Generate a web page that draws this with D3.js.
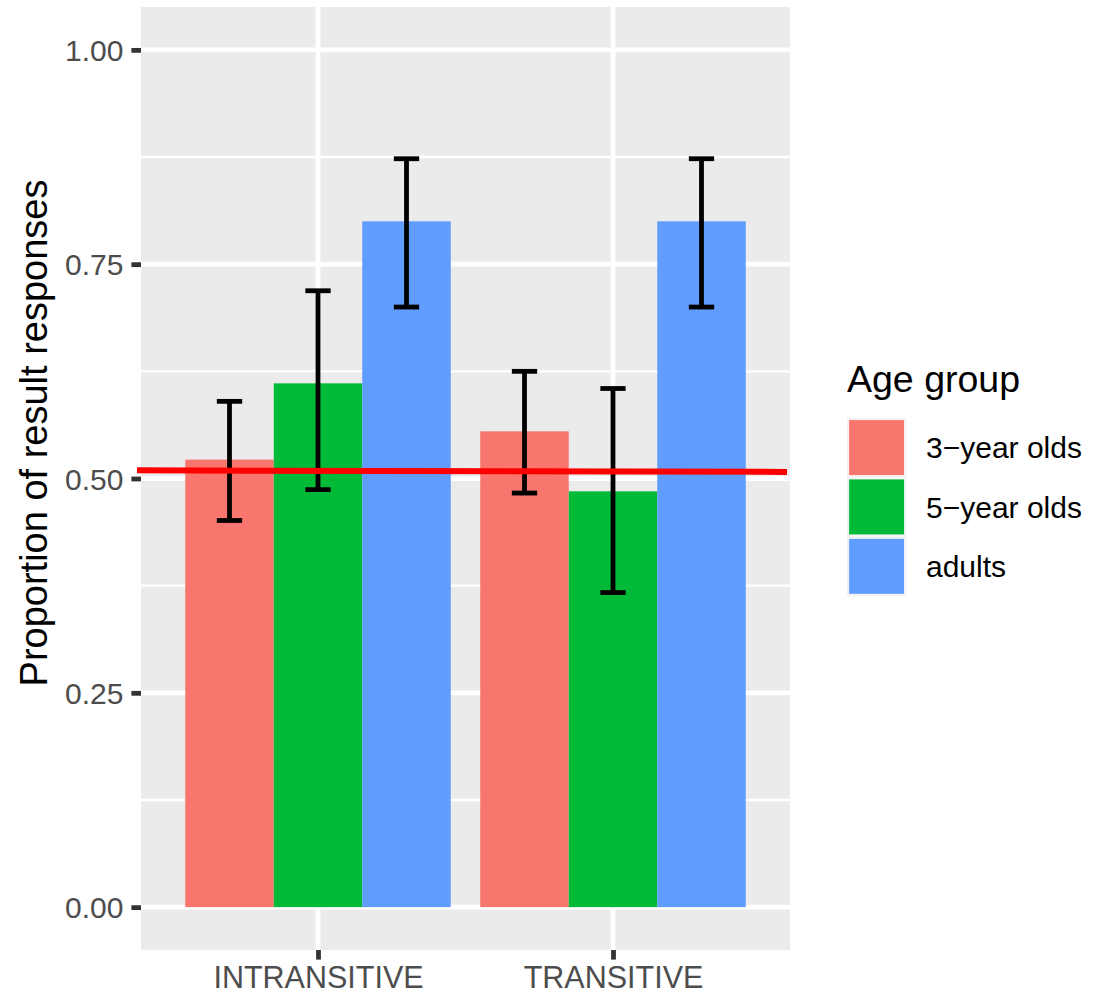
<!DOCTYPE html>
<html>
<head>
<meta charset="utf-8">
<script src="https://cdn.jsdelivr.net/npm/d3@7"></script>
<style>
  html, body { margin: 0; padding: 0; background: #ffffff; }
  svg { display: block; }
  text { font-family: "Liberation Sans", Arial, sans-serif; }
</style>
</head>
<body>
<svg id="chart" width="1094" height="995"></svg>
<script>
// ---- data ----
const categories = ["INTRANSITIVE", "TRANSITIVE"];
const groups = ["3\u2212year olds", "5\u2212year olds", "adults"];
const colors = ["#F8766D", "#00BA38", "#619CFF"];
// mean proportions per category (rows) and group (columns)
const means = [
  [0.522, 0.611, 0.800],
  [0.555, 0.485, 0.800]
];
const lowers = [
  [0.451, 0.487, 0.700],
  [0.483, 0.367, 0.700]
];
const uppers = [
  [0.590, 0.719, 0.873],
  [0.625, 0.605, 0.873]
];
const yTicks = [0, 0.25, 0.5, 0.75, 1.0];
const yMinor = [0.125, 0.375, 0.625, 0.875];
const yTickLabels = ["0.00", "0.25", "0.50", "0.75", "1.00"];
const refLine = [0.5095, 0.5077];   // red reference line (left, right)
const yTitle = "Proportion of result responses";
const legendTitle = "Age group";

// ---- layout ----
const svg = d3.select("#chart");
const panel = { left: 141, right: 790, top: 7, bottom: 950 };

const x0 = d3.scaleBand().domain(categories)
  .range([panel.left, panel.right]).paddingInner(0.1).paddingOuter(0.15);
const x1 = d3.scaleBand().domain(groups).range([0, x0.bandwidth()]).padding(0);
const xCenter = c => x0(c) + x0.bandwidth() / 2;
const y = d3.scaleLinear().domain([-0.05, 1.05]).range([panel.bottom, panel.top]);
const color = d3.scaleOrdinal().domain(groups).range(colors);

// panel background
svg.append("rect")
  .attr("x", panel.left).attr("y", panel.top)
  .attr("width", panel.right - panel.left).attr("height", panel.bottom - panel.top)
  .attr("fill", "#EBEBEB");

// grid lines
const grid = svg.append("g");
grid.selectAll(".minor").data(yMinor).join("line")
  .attr("x1", panel.left).attr("x2", panel.right)
  .attr("y1", d => y(d)).attr("y2", d => y(d))
  .attr("stroke", "#ffffff").attr("stroke-width", 2.4);
grid.selectAll(".major").data(yTicks).join("line")
  .attr("x1", panel.left).attr("x2", panel.right)
  .attr("y1", d => y(d)).attr("y2", d => y(d))
  .attr("stroke", "#ffffff").attr("stroke-width", 4.8);
grid.selectAll(".vmajor").data(categories).join("line")
  .attr("x1", d => xCenter(d)).attr("x2", d => xCenter(d))
  .attr("y1", panel.top).attr("y2", panel.bottom)
  .attr("stroke", "#ffffff").attr("stroke-width", 4.8);

// bars
const flat = [];
categories.forEach((c, i) => groups.forEach((g, j) => {
  flat.push({ cat: c, grp: g, mean: means[i][j], lo: lowers[i][j], hi: uppers[i][j] });
}));

svg.append("g").selectAll("rect").data(flat).join("rect")
  .attr("x", d => x0(d.cat) + x1(d.grp))
  .attr("width", x1.bandwidth())
  .attr("y", d => y(d.mean))
  .attr("height", d => y(0) - y(d.mean))
  .attr("fill", d => color(d.grp));

// error bars
const capW = 25.3;
const eb = svg.append("g").attr("stroke", "#000000").attr("stroke-width", 4.8).attr("fill", "none");
flat.forEach(d => {
  const cx = x0(d.cat) + x1(d.grp) + x1.bandwidth() / 2;
  eb.append("line").attr("x1", cx).attr("x2", cx).attr("y1", y(d.hi)).attr("y2", y(d.lo));
  eb.append("line").attr("x1", cx - capW / 2).attr("x2", cx + capW / 2).attr("y1", y(d.hi)).attr("y2", y(d.hi));
  eb.append("line").attr("x1", cx - capW / 2).attr("x2", cx + capW / 2).attr("y1", y(d.lo)).attr("y2", y(d.lo));
});

// red reference line
svg.append("line")
  .attr("x1", panel.left - 4).attr("x2", panel.right - 3)
  .attr("y1", y(refLine[0])).attr("y2", y(refLine[1]))
  .attr("stroke", "#FF0000").attr("stroke-width", 6);

// y axis
const yAxis = svg.append("g").attr("transform", `translate(${panel.left},0)`)
  .call(d3.axisLeft(y).tickValues(yTicks).tickFormat((d, i) => yTickLabels[i]).tickSize(9.6).tickPadding(8));
yAxis.select(".domain").remove();
yAxis.selectAll(".tick line").attr("stroke", "#333333").attr("stroke-width", 4.8);
yAxis.selectAll(".tick text").attr("fill", "#4D4D4D").attr("font-size", 30)
  .attr("font-family", "'Liberation Sans', Arial, sans-serif").attr("dy", "0.36em");

// x axis
const xAxis = svg.append("g").attr("transform", `translate(0,${panel.bottom})`)
  .call(d3.axisBottom(d3.scalePoint().domain(categories).range([xCenter(categories[0]), xCenter(categories[1])]))
    .tickSize(9.6).tickPadding(7));
xAxis.select(".domain").remove();
xAxis.selectAll(".tick line").attr("stroke", "#333333").attr("stroke-width", 4.8);
xAxis.selectAll(".tick text").attr("fill", "#4D4D4D").attr("font-size", 30.5)
  .attr("font-family", "'Liberation Sans', Arial, sans-serif").attr("dy", "0.71em");

// y title
svg.append("text")
  .attr("transform", "translate(47,433) rotate(-90)")
  .attr("text-anchor", "middle").attr("font-size", 38).attr("fill", "#000000")
  .text(yTitle);

// legend
const lg = svg.append("g").attr("transform", "translate(847,0)");
lg.append("text").attr("x", 0).attr("y", 392).attr("font-size", 37.5).attr("fill", "#000000").text(legendTitle);
const keySize = 59.3, keyTop = 418;
groups.forEach((g, i) => {
  const ky = keyTop + i * keySize;
  lg.append("rect").attr("x", 0).attr("y", ky).attr("width", keySize).attr("height", keySize).attr("fill", "#F2F2F2");
  lg.append("rect").attr("x", 1.7).attr("y", ky + 1.7).attr("width", keySize - 3.4).attr("height", keySize - 3.4)
    .attr("fill", color(g)).attr("stroke", "#ffffff").attr("stroke-width", 0.8);
  lg.append("text").attr("x", 79).attr("y", ky + keySize / 2).attr("dy", "0.36em")
    .attr("font-size", 30).attr("fill", "#000000").text(g);
});
</script>
</body>
</html>
